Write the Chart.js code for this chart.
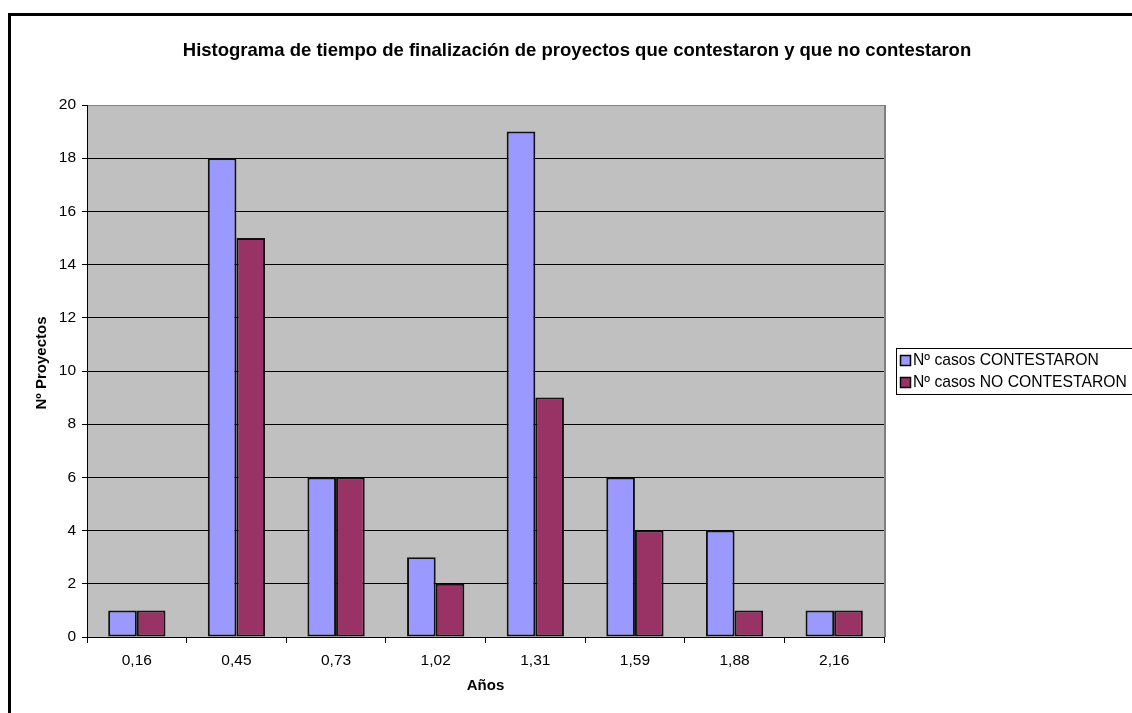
<!DOCTYPE html>
<html><head><meta charset="utf-8">
<script src="https://cdn.jsdelivr.net/npm/chart.js@4/dist/chart.umd.min.js"></script>
<style>html,body{margin:0;padding:0;background:#fff}#wrap{width:1132px;height:713px;position:relative}</style>
</head><body><div id="wrap"><canvas id="c" width="1132" height="713"></canvas></div>
<script>
const categories = ['0,16','0,45','0,73','1,02','1,31','1,59','1,88','2,16'];
const contestaron = [1,18,6,3,19,6,4,1];
const noContestaron = [1,15,6,2,9,4,1,1];
const seriesNames = ['Nº casos CONTESTARON','Nº casos NO CONTESTARON'];
const yTicks = [0,2,4,6,8,10,12,14,16,18,20];
const titleText = 'Histograma de tiempo de finalización de proyectos que contestaron y que no contestaron';
const FONT = 'Arial, "Liberation Sans", sans-serif';

const decor = {
  id:'decor',
  beforeDraw(chart){
    const {ctx, chartArea:a} = chart;
    ctx.save();
    ctx.fillStyle='#fff'; ctx.fillRect(0,0,chart.width,chart.height);
    ctx.fillStyle='#C0C0C0'; ctx.fillRect(a.left,a.top,a.right-a.left,a.bottom-a.top);
    ctx.strokeStyle='#808080'; ctx.lineWidth=2;
    ctx.beginPath(); ctx.moveTo(a.right+1,a.top); ctx.lineTo(a.right+1,a.bottom); ctx.stroke();
    ctx.strokeStyle='#000'; ctx.lineWidth=3;
    ctx.beginPath(); ctx.moveTo(9.5,713); ctx.lineTo(9.5,14.5); ctx.lineTo(1132,14.5); ctx.stroke();
    ctx.restore();
  },
  afterDraw(chart){
    const {ctx, chartArea:a} = chart;
    ctx.save();
    ctx.fillStyle='#000';
    ctx.font='bold 18.5px '+FONT; ctx.textAlign='center'; ctx.textBaseline='middle';
    ctx.fillText(titleText, 577, 51);
    ctx.font='bold 15px '+FONT;
    ctx.fillText('Años', (a.left+a.right)/2, 686);
    ctx.translate(42,363); ctx.rotate(-Math.PI/2);
    ctx.fillText('Nº Proyectos',0,0);
    ctx.restore();
    ctx.save();
    const lx=896, ly=348, lw=236, lh=46;
    ctx.strokeStyle='#000'; ctx.lineWidth=1;
    ctx.strokeRect(lx+0.5,ly+0.5,lw,lh);
    ctx.font='15.7px '+FONT; ctx.textAlign='left'; ctx.textBaseline='middle';
    chart.data.datasets.forEach((ds,i)=>{
      const y = ly+12+i*22;
      ctx.fillStyle=ds.backgroundColor;
      ctx.fillRect(lx+4,y-5,11,11);
      ctx.strokeStyle='#000'; ctx.lineWidth=1.5; ctx.strokeRect(lx+4.5,y-4.5,10,10);
      ctx.fillStyle='#000';
      ctx.fillText(ds.label, lx+17, y+1);
    });
    ctx.restore();
  }
};

new Chart(document.getElementById('c'),{
  type:'bar',
  data:{labels:categories,datasets:[
    {label:seriesNames[0],data:contestaron,backgroundColor:'#9999FF',borderColor:'#111',borderWidth:2,borderSkipped:false},
    {label:seriesNames[1],data:noContestaron,backgroundColor:'#993366',borderColor:'#111',borderWidth:2,borderSkipped:false}
  ]},
  options:{
    responsive:false, animation:false, devicePixelRatio:1,
    layout:{padding:{left:0,top:105,right:248,bottom:0}},
    plugins:{legend:{display:false},title:{display:false},tooltip:{enabled:false}},
    datasets:{bar:{categoryPercentage:0.575,barPercentage:1}},
    scales:{
      x:{
        offset:true,
        grid:{offset:true,drawOnChartArea:false,drawTicks:true,tickLength:6,color:'#000'},
        border:{color:'#000',width:1},
        ticks:{color:'#000',font:{family:FONT,size:15.5},padding:8,maxRotation:0},
        afterFit(s){s.height=76;}
      },
      y:{
        min:0,max:20,
        afterBuildTicks(s){s.ticks=yTicks.map(v=>({value:v}));},
        grid:{color:(c)=>c.tick && c.tick.value===20?'#808080':'#000',lineWidth:1,tickLength:5,drawTicks:true,tickColor:'#000'},
        border:{color:'#000',width:1},
        ticks:{color:'#000',font:{family:FONT,size:15.5},padding:6},
        afterFit(s){s.width=87;}
      }
    }
  },
  plugins:[decor]
});
</script></body></html>
